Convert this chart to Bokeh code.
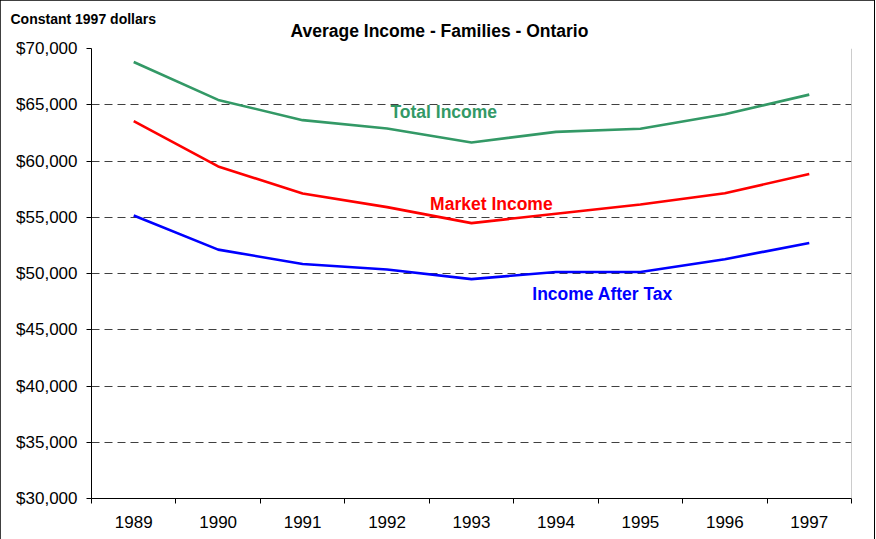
from bokeh.plotting import figure
from bokeh.models import (Range1d, FixedTicker, NumeralTickFormatter, Label, Span, Title)
from bokeh.embed import file_html
from bokeh.resources import INLINE

years = ["1989", "1990", "1991", "1992", "1993", "1994", "1995", "1996", "1997"]
total_income = [68800, 65430, 63630, 62890, 61650, 62590, 62860, 64160, 65900]
market_income = [63540, 59520, 57110, 55900, 54480, 55310, 56130, 57130, 58850]
income_after_tax = [55160, 52120, 50850, 50350, 49500, 50140, 50140, 51270, 52710]
y_ticks = [30000, 35000, 40000, 45000, 50000, 55000, 60000, 65000, 70000]

title_text = "Average Income - Families - Ontario"
units_text = "Constant 1997 dollars"

GREEN = "#339966"
RED = "#FF0000"
BLUE = "#0000FF"
FONT = "Liberation Sans"

xs = [i + 0.5 for i in range(len(years))]

p = figure(width=874, height=539, output_backend="svg", toolbar_location=None,
           x_range=Range1d(0, len(years)), y_range=Range1d(y_ticks[0], y_ticks[-1]),
           min_border_left=91, min_border_right=23, min_border_top=48, min_border_bottom=41)
p.outline_line_color = None
p.background_fill_color = "white"
p.border_fill_color = "white"
p.styles = {"outline": "2px solid black", "outline-offset": "-1px"}

# outer title: units note (top-left)
p.title.text = units_text
p.title.align = "left"
p.title.offset = -81
p.title.text_font = FONT
p.title.text_font_size = "14px"
p.title.text_font_style = "bold"
p.title.text_color = "black"
p.title.vertical_align = "bottom"
p.title.standoff = -32

# inner title: main chart title
p.add_layout(Title(text=title_text, align="left", offset=199, text_font=FONT,
                   text_font_size="17.5px", text_font_style="bold", text_color="black",
                   vertical_align="bottom", standoff=16), "above")

# x axis: labels at category centres, ticks at category boundaries
p.xaxis.ticker = FixedTicker(ticks=xs, minor_ticks=list(range(len(years) + 1)))
p.xaxis.major_label_overrides = {x: y for x, y in zip(xs, years)}
p.xaxis.major_tick_out = 0
p.xaxis.major_tick_in = 0
p.xaxis.minor_tick_out = 5
p.xaxis.minor_tick_in = 0
p.xaxis.minor_tick_line_color = "black"
p.xaxis.axis_line_color = "black"
p.xaxis.major_label_text_font = FONT
p.xaxis.major_label_text_font_size = "17px"
p.xaxis.major_label_text_color = "black"
p.xaxis.major_label_standoff = 12
p.xgrid.grid_line_color = None

# y axis
p.yaxis.ticker = FixedTicker(ticks=y_ticks)
p.yaxis.formatter = NumeralTickFormatter(format="$0,0")
p.yaxis.major_tick_out = 5
p.yaxis.major_tick_in = 0
p.yaxis.minor_tick_line_color = None
p.yaxis.axis_line_color = "black"
p.yaxis.major_tick_line_color = "black"
p.yaxis.major_label_text_font = FONT
p.yaxis.major_label_text_font_size = "17px"
p.yaxis.major_label_text_color = "black"
p.yaxis.major_label_standoff = 9
p.ygrid.grid_line_color = "#404040"
p.ygrid.grid_line_dash = "8 5"
p.ygrid.grid_line_width = 1

# right border of plot area
p.add_layout(Span(location=len(years), dimension="height", line_color="#999999", line_width=1))

p.line(xs, total_income, line_color=GREEN, line_width=2.6)
p.line(xs, market_income, line_color=RED, line_width=2.6)
p.line(xs, income_after_tax, line_color=BLUE, line_width=2.6)

def series_label(text, x, y, color):
    p.add_layout(Label(x=x, y=y, text=text, text_color=color, text_font=FONT,
                       text_font_size="17.5px", text_font_style="bold",
                       text_baseline="middle", text_align="left"))

series_label("Total Income", 3.54, 64360, GREEN)
series_label("Market Income", 4.01, 56200, RED)
series_label("Income After Tax", 5.22, 48150, BLUE)

open("out.html", "w").write(file_html(p, INLINE))
